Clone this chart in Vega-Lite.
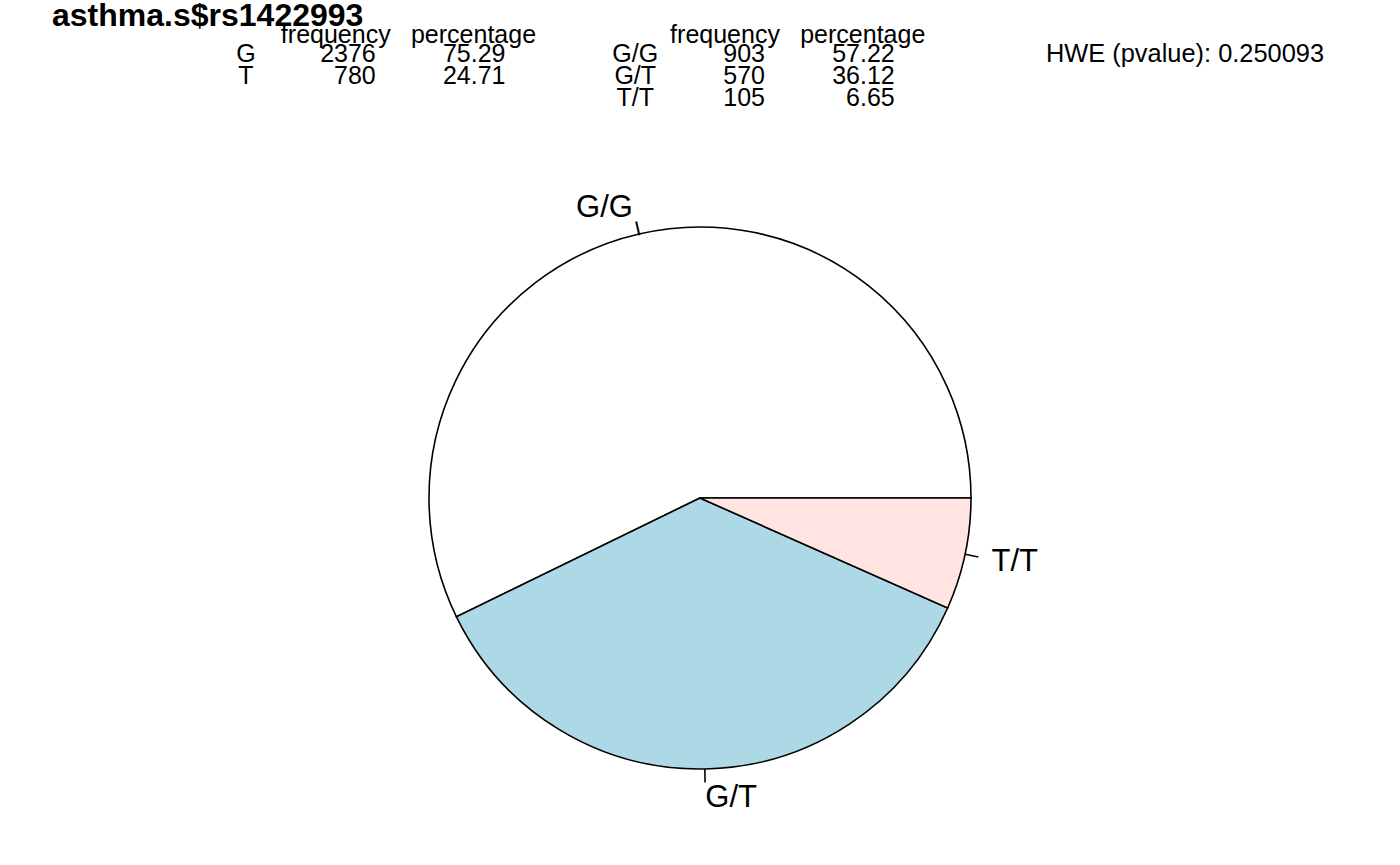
{
  "$schema": "https://vega.github.io/schema/vega-lite/v6.json",
  "width": 1400,
  "height": 734,
  "autosize": {"type": "none"},
  "padding": {"top": 131, "left": 0, "right": 0, "bottom": 0},
  "background": "white",
  "config": {"view": {"stroke": null}, "font": "Liberation Sans"},
  "datasets": {
    "genotypes": [
      {"genotype": "G/G", "frequency": 903, "percentage": 57.22},
      {"genotype": "G/T", "frequency": 570, "percentage": 36.12},
      {"genotype": "T/T", "frequency": 105, "percentage": 6.65}
    ],
    "cells": [
      {"col": "a_name", "row": "title", "label": "asthma.s$rs1422993"},
      {"col": "a_name", "row": "r1", "label": "G"},
      {"col": "a_name", "row": "r2", "label": "T"},
      {"col": "a_freq", "row": "hdr", "label": "frequency"},
      {"col": "a_freq", "row": "r1", "label": "2376"},
      {"col": "a_freq", "row": "r2", "label": "780"},
      {"col": "a_pct", "row": "hdr", "label": "percentage"},
      {"col": "a_pct", "row": "r1", "label": "75.29"},
      {"col": "a_pct", "row": "r2", "label": "24.71"},
      {"col": "g_name", "row": "r1", "label": "G/G"},
      {"col": "g_name", "row": "r2", "label": "G/T"},
      {"col": "g_name", "row": "r3", "label": "T/T"},
      {"col": "g_freq", "row": "hdr", "label": "frequency"},
      {"col": "g_freq", "row": "r1", "label": "903"},
      {"col": "g_freq", "row": "r2", "label": "570"},
      {"col": "g_freq", "row": "r3", "label": "105"},
      {"col": "g_pct", "row": "hdr", "label": "percentage"},
      {"col": "g_pct", "row": "r1", "label": "57.22"},
      {"col": "g_pct", "row": "r2", "label": "36.12"},
      {"col": "g_pct", "row": "r3", "label": "6.65"},
      {"col": "hwe", "row": "r1", "label": "HWE (pvalue): 0.250093"}
    ]
  },
  "layer": [
    {
      "data": {"name": "genotypes"},
      "mark": {"type": "arc", "radius": 271, "stroke": "black", "strokeWidth": 1.6},
      "encoding": {
        "theta": {"field": "frequency", "type": "quantitative", "stack": true, "scale": {"range": [1.5707963, -4.712389]}},
        "order": {"field": "frequency", "type": "quantitative", "sort": "descending"},
        "color": {"field": "genotype", "type": "nominal", "scale": {"domain": ["G/G", "G/T", "T/T"], "range": ["#FFFFFF", "#ADD8E6", "#FFE4E1"]}, "legend": null}
      }
    },
    {
      "data": {"name": "genotypes"},
      "mark": {"type": "arc", "radius": 284.5, "radius2": 271, "padAngle": 3.1416, "stroke": "black", "strokeWidth": 1.6, "fill": "black"},
      "encoding": {
        "theta": {"field": "frequency", "type": "quantitative", "stack": true},
        "order": {"field": "frequency", "type": "quantitative", "sort": "descending"},
        "detail": {"field": "genotype", "type": "nominal"},
        "opacity": {"condition": {"test": "datum.genotype === 'G/G'", "value": 0}, "value": 1}
      }
    },
    {
      "data": {"name": "genotypes"},
      "mark": {"type": "text", "radius": 278, "angle": 347, "align": "center", "baseline": "middle", "fontSize": 15, "fontWeight": "bold", "color": "black"},
      "encoding": {
        "theta": {"field": "frequency", "type": "quantitative", "stack": true},
        "order": {"field": "frequency", "type": "quantitative", "sort": "descending"},
        "detail": {"field": "genotype", "type": "nominal"},
        "text": {"condition": {"test": "datum.genotype === 'G/G'", "value": "|"}, "value": ""}
      }
    },
    {
      "data": {"name": "genotypes"},
      "mark": {"type": "text", "radius": 298, "align": "right", "baseline": "middle", "fontSize": 31, "color": "black"},
      "encoding": {
        "theta": {"field": "frequency", "type": "quantitative", "stack": true},
        "order": {"field": "frequency", "type": "quantitative", "sort": "descending"},
        "detail": {"field": "genotype", "type": "nominal"},
        "text": {"condition": {"test": "datum.genotype === 'G/G'", "field": "genotype", "type": "nominal"}, "value": ""}
      }
    },
    {
      "data": {"name": "genotypes"},
      "mark": {"type": "text", "radius": 298, "align": "left", "baseline": "middle", "dy": 2, "fontSize": 31, "color": "black"},
      "encoding": {
        "theta": {"field": "frequency", "type": "quantitative", "stack": true},
        "order": {"field": "frequency", "type": "quantitative", "sort": "descending"},
        "detail": {"field": "genotype", "type": "nominal"},
        "text": {"condition": {"test": "datum.genotype !== 'G/G'", "field": "genotype", "type": "nominal"}, "value": ""}
      }
    },
    {
      "data": {"name": "cells"},
      "transform": [{"filter": "datum.row === 'title'"}],
      "mark": {"type": "text", "align": "left", "baseline": "alphabetic", "dx": -194, "dy": 9, "fontSize": 32, "fontWeight": "bold", "color": "black"},
      "encoding": {
        "x": {"field": "col", "type": "nominal", "scale": {"type": "point", "domain": ["a_name", "a_freq", "a_pct", "g_name", "g_freq", "g_pct", "hwe"], "range": [246, 1024.5], "padding": 0}, "axis": null},
        "y": {"field": "row", "type": "nominal", "scale": {"type": "point", "domain": ["title", "hdr", "r1", "r2", "r3"], "range": [-114, -26], "padding": 0}, "axis": null},
        "text": {"field": "label", "type": "nominal"}
      }
    },
    {
      "data": {"name": "cells"},
      "transform": [{"filter": "datum.row !== 'title' && (datum.col === 'a_name' || datum.col === 'g_name')"}],
      "mark": {"type": "text", "align": "center", "baseline": "alphabetic", "dy": 1, "fontSize": 25, "color": "black"},
      "encoding": {
        "x": {"field": "col", "type": "nominal", "axis": null},
        "y": {"field": "row", "type": "nominal", "axis": null},
        "text": {"field": "label", "type": "nominal"}
      }
    },
    {
      "data": {"name": "cells"},
      "transform": [{"filter": "datum.row !== 'hdr' && indexof(['a_freq', 'a_pct', 'g_freq', 'g_pct'], datum.col) >= 0"}],
      "mark": {"type": "text", "align": "right", "baseline": "alphabetic", "dy": 1, "fontSize": 25, "color": "black"},
      "encoding": {
        "x": {"field": "col", "type": "nominal", "axis": null},
        "y": {"field": "row", "type": "nominal", "axis": null},
        "text": {"field": "label", "type": "nominal"}
      }
    },
    {
      "data": {"name": "cells"},
      "transform": [{"filter": "datum.row === 'hdr' && (datum.col === 'a_freq' || datum.col === 'g_freq')"}],
      "mark": {"type": "text", "align": "center", "baseline": "alphabetic", "dx": -40, "dy": 4, "fontSize": 25, "color": "black"},
      "encoding": {
        "x": {"field": "col", "type": "nominal", "axis": null},
        "y": {"field": "row", "type": "nominal", "axis": null},
        "text": {"field": "label", "type": "nominal"}
      }
    },
    {
      "data": {"name": "cells"},
      "transform": [{"filter": "datum.row === 'hdr' && (datum.col === 'a_pct' || datum.col === 'g_pct')"}],
      "mark": {"type": "text", "align": "center", "baseline": "alphabetic", "dx": -32, "dy": 4, "fontSize": 25, "color": "black"},
      "encoding": {
        "x": {"field": "col", "type": "nominal", "axis": null},
        "y": {"field": "row", "type": "nominal", "axis": null},
        "text": {"field": "label", "type": "nominal"}
      }
    },
    {
      "data": {"name": "cells"},
      "transform": [{"filter": "datum.col === 'hwe'"}],
      "mark": {"type": "text", "align": "left", "baseline": "alphabetic", "dx": 21.5, "dy": 1, "fontSize": 25.4, "color": "black"},
      "encoding": {
        "x": {"field": "col", "type": "nominal", "axis": null},
        "y": {"field": "row", "type": "nominal", "axis": null},
        "text": {"field": "label", "type": "nominal"}
      }
    }
  ]
}
